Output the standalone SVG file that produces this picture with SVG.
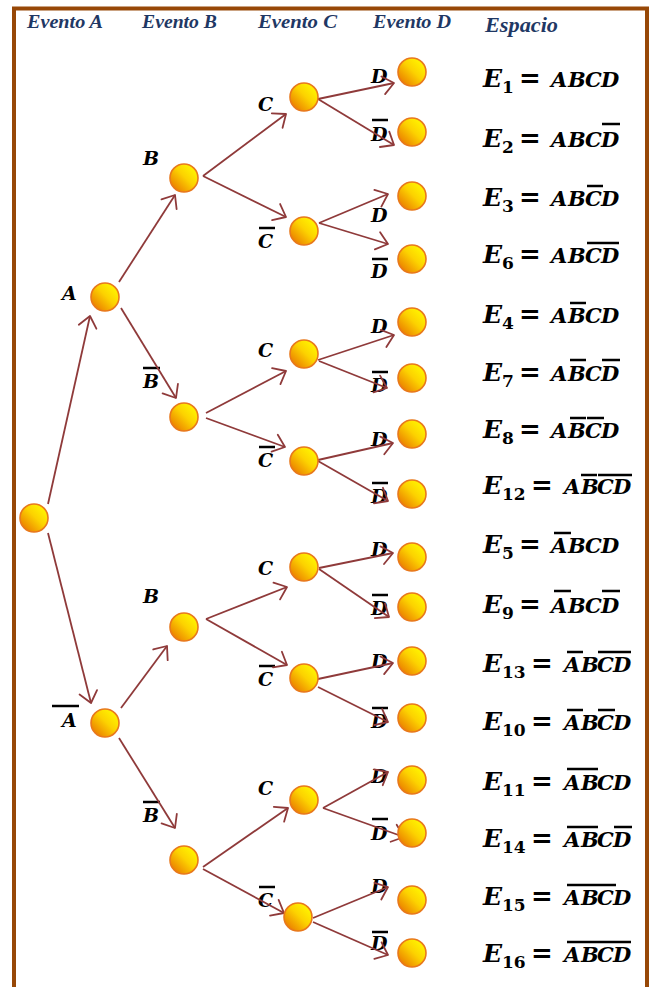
<svg xmlns="http://www.w3.org/2000/svg" width="655" height="987" viewBox="0 0 655 987">
<defs>
<linearGradient id="ball" x1="0.85" y1="0.15" x2="0.15" y2="0.85">
<stop offset="0" stop-color="#fff400"/>
<stop offset="0.45" stop-color="#fcd200"/>
<stop offset="1" stop-color="#ec8400"/>
</linearGradient>
<marker id="arr" markerUnits="userSpaceOnUse" viewBox="-14 -11 16 22" refX="0" refY="0" markerWidth="16" markerHeight="22" orient="auto" overflow="visible">
<path d="M -11 -9 L 0 0 L -11 9" fill="none" stroke="#8f3a3a" stroke-width="1.8" stroke-linecap="round" stroke-linejoin="round"/>
</marker>
<style>
.hdr{font-family:"Liberation Serif","Times New Roman",serif;font-weight:bold;font-style:italic;fill:#1f3864;font-size:18px}
.lbl{font-family:"DejaVu Serif",serif;font-weight:bold;font-style:italic;font-size:19px;fill:#000}
.eE{font-family:"DejaVu Serif",serif;font-weight:bold;font-style:italic;font-size:25px;fill:#000}
.sub{font-family:"DejaVu Serif",serif;font-weight:bold;font-size:17px;fill:#000}
.eq{font-family:"DejaVu Serif",serif;font-weight:bold;font-size:26px;fill:#000}
.let{font-family:"DejaVu Serif",serif;font-weight:bold;font-style:italic;font-size:21px;fill:#000}
.bar{stroke:#000;stroke-width:2.5}
.node{fill:url(#ball);stroke:#e8781c;stroke-width:1.6}
.edge{stroke:#8f3a3a;stroke-width:1.8;fill:none;marker-end:url(#arr)}
</style>
</defs>
<rect x="0" y="0" width="655" height="987" fill="#fff"/>
<rect x="14" y="8.5" width="633" height="1000" fill="#fff" stroke="#974807" stroke-width="4"/>

<g id="headers">
<text class="hdr" x="27" y="27.5" textLength="76" lengthAdjust="spacingAndGlyphs">Evento A</text>
<text class="hdr" x="142" y="27.5" textLength="75" lengthAdjust="spacingAndGlyphs">Evento B</text>
<text class="hdr" x="258" y="27.5" textLength="79" lengthAdjust="spacingAndGlyphs">Evento C</text>
<text class="hdr" x="373" y="27.5" textLength="78" lengthAdjust="spacingAndGlyphs">Evento D</text>
<text class="hdr" x="485" y="32" style="font-size:22px" textLength="73" lengthAdjust="spacingAndGlyphs">Espacio</text>
</g>

<g id="labels">
<text class="lbl" x="62" y="300">A</text>
<text class="lbl" x="62" y="727">A</text><line class="bar" x1="52" y1="706" x2="79" y2="706"/>
<text class="lbl" x="143" y="165">B</text>
<text class="lbl" x="143" y="388">B</text><line class="bar" x1="143" y1="368" x2="160" y2="368"/>
<text class="lbl" x="143" y="603">B</text>
<text class="lbl" x="143" y="822">B</text><line class="bar" x1="143" y1="802" x2="160" y2="802"/>
<text class="lbl" x="258" y="111">C</text>
<text class="lbl" x="258" y="248">C</text><line class="bar" x1="259" y1="228" x2="275" y2="228"/>
<text class="lbl" x="258" y="357">C</text>
<text class="lbl" x="258" y="467">C</text><line class="bar" x1="259" y1="447" x2="275" y2="447"/>
<text class="lbl" x="258" y="575">C</text>
<text class="lbl" x="258" y="686">C</text><line class="bar" x1="259" y1="666" x2="275" y2="666"/>
<text class="lbl" x="258" y="795">C</text>
<text class="lbl" x="258" y="907">C</text><line class="bar" x1="259" y1="887" x2="275" y2="887"/>
<text class="lbl" x="371" y="83">D</text>
<text class="lbl" x="371" y="141">D</text><line class="bar" x1="372" y1="120" x2="388" y2="120"/>
<text class="lbl" x="371" y="222">D</text>
<text class="lbl" x="371" y="278">D</text><line class="bar" x1="372" y1="259" x2="388" y2="259"/>
<text class="lbl" x="371" y="333">D</text>
<text class="lbl" x="371" y="392">D</text><line class="bar" x1="372" y1="372" x2="388" y2="372"/>
<text class="lbl" x="371" y="446">D</text>
<text class="lbl" x="371" y="503">D</text><line class="bar" x1="372" y1="483" x2="388" y2="483"/>
<text class="lbl" x="371" y="556">D</text>
<text class="lbl" x="371" y="615">D</text><line class="bar" x1="372" y1="595" x2="388" y2="595"/>
<text class="lbl" x="371" y="668">D</text>
<text class="lbl" x="371" y="728">D</text><line class="bar" x1="372" y1="708" x2="388" y2="708"/>
<text class="lbl" x="371" y="783">D</text>
<text class="lbl" x="371" y="840">D</text><line class="bar" x1="372" y1="819" x2="388" y2="819"/>
<text class="lbl" x="371" y="893">D</text>
<text class="lbl" x="371" y="950">D</text><line class="bar" x1="372" y1="932" x2="388" y2="932"/>
</g>

<g id="connectors">
<line class="edge" x1="48" y1="504" x2="90" y2="316"/>
<line class="edge" x1="48" y1="533" x2="91" y2="703"/>
<line class="edge" x1="119" y1="282" x2="175" y2="195"/>
<line class="edge" x1="121" y1="308" x2="176" y2="398"/>
<line class="edge" x1="203" y1="176" x2="286" y2="114"/>
<line class="edge" x1="203" y1="176" x2="286" y2="217"/>
<line class="edge" x1="318" y1="99" x2="394" y2="83"/>
<line class="edge" x1="318" y1="99" x2="394" y2="145"/>
<line class="edge" x1="319" y1="223" x2="388" y2="194"/>
<line class="edge" x1="319" y1="223" x2="388" y2="244"/>
<line class="edge" x1="206" y1="413" x2="286" y2="371"/>
<line class="edge" x1="206" y1="418" x2="285" y2="447"/>
<line class="edge" x1="318" y1="360" x2="394" y2="335"/>
<line class="edge" x1="319" y1="361" x2="387" y2="388"/>
<line class="edge" x1="318" y1="460" x2="393" y2="443"/>
<line class="edge" x1="318" y1="461" x2="388" y2="501"/>
<line class="edge" x1="121" y1="708" x2="167" y2="646"/>
<line class="edge" x1="119" y1="738" x2="175" y2="828"/>
<line class="edge" x1="206" y1="619" x2="287" y2="587"/>
<line class="edge" x1="206" y1="619" x2="287" y2="665"/>
<line class="edge" x1="319" y1="568" x2="393" y2="553"/>
<line class="edge" x1="319" y1="569" x2="389" y2="617"/>
<line class="edge" x1="318" y1="679" x2="393" y2="663"/>
<line class="edge" x1="318" y1="687" x2="388" y2="722"/>
<line class="edge" x1="203" y1="867" x2="288" y2="808"/>
<line class="edge" x1="203" y1="869" x2="284" y2="913"/>
<line class="edge" x1="323" y1="808" x2="388" y2="772"/>
<line class="edge" x1="323" y1="808" x2="404" y2="837"/>
<line class="edge" x1="313" y1="918" x2="388" y2="887"/>
<line class="edge" x1="313" y1="922" x2="388" y2="955"/>
</g>

<g id="n-root"><circle class="node" cx="34" cy="518" r="14"/></g>
<g id="n-A"><circle class="node" cx="105" cy="297" r="14"/></g>
<g id="n-Abar"><circle class="node" cx="105" cy="723" r="14"/></g>
<g id="n-AB"><circle class="node" cx="184" cy="178" r="14"/></g>
<g id="n-ABbar"><circle class="node" cx="184" cy="417" r="14"/></g>
<g id="n-AbarB"><circle class="node" cx="184" cy="627" r="14"/></g>
<g id="n-AbarBbar"><circle class="node" cx="184" cy="860" r="14"/></g>
<g id="n-ABC"><circle class="node" cx="304" cy="97" r="14"/></g>
<g id="n-ABCbar"><circle class="node" cx="304" cy="231" r="14"/></g>
<g id="n-ABbarC"><circle class="node" cx="304" cy="354" r="14"/></g>
<g id="n-ABbarCbar"><circle class="node" cx="304" cy="461" r="14"/></g>
<g id="n-AbarBC"><circle class="node" cx="304" cy="567" r="14"/></g>
<g id="n-AbarBCbar"><circle class="node" cx="304" cy="678" r="14"/></g>
<g id="n-AbarBbarC"><circle class="node" cx="304" cy="800" r="14"/></g>
<g id="n-AbarBbarCbar"><circle class="node" cx="298" cy="917" r="14"/></g>
<g id="n-E1"><circle class="node" cx="412" cy="72" r="14"/></g>
<g id="n-E2"><circle class="node" cx="412" cy="132" r="14"/></g>
<g id="n-E3"><circle class="node" cx="412" cy="196" r="14"/></g>
<g id="n-E6"><circle class="node" cx="412" cy="259" r="14"/></g>
<g id="n-E4"><circle class="node" cx="412" cy="322" r="14"/></g>
<g id="n-E7"><circle class="node" cx="412" cy="378" r="14"/></g>
<g id="n-E8"><circle class="node" cx="412" cy="434" r="14"/></g>
<g id="n-E12"><circle class="node" cx="412" cy="494" r="14"/></g>
<g id="n-E5"><circle class="node" cx="412" cy="557" r="14"/></g>
<g id="n-E9"><circle class="node" cx="412" cy="607" r="14"/></g>
<g id="n-E13"><circle class="node" cx="412" cy="661" r="14"/></g>
<g id="n-E10"><circle class="node" cx="412" cy="718" r="14"/></g>
<g id="n-E11"><circle class="node" cx="412" cy="780" r="14"/></g>
<g id="n-E14"><circle class="node" cx="412" cy="833" r="14"/></g>
<g id="n-E15"><circle class="node" cx="412" cy="900" r="14"/></g>
<g id="n-E16"><circle class="node" cx="412" cy="953" r="14"/></g>

<g id="equations">
<g id="eq1"><text class="eE" x="483" y="87">E</text><text class="sub" x="502" y="93">1</text><text class="eq" x="519" y="87">=</text><text class="let" x="551 568 585 601" y="87">ABCD</text></g>
<g id="eq2"><text class="eE" x="483" y="147">E</text><text class="sub" x="502" y="153">2</text><text class="eq" x="519" y="147">=</text><text class="let" x="551 568 585 601" y="147">ABCD</text><line class="bar" x1="602" y1="124" x2="620" y2="124"/></g>
<g id="eq3"><text class="eE" x="483" y="206">E</text><text class="sub" x="502" y="212">3</text><text class="eq" x="519" y="206">=</text><text class="let" x="551 568 585 601" y="206">ABCD</text><line class="bar" x1="587" y1="186" x2="603" y2="186"/></g>
<g id="eq6"><text class="eE" x="483" y="263">E</text><text class="sub" x="502" y="269">6</text><text class="eq" x="519" y="263">=</text><text class="let" x="551 568 585 601" y="263">ABCD</text><line class="bar" x1="587" y1="243" x2="619" y2="243"/></g>
<g id="eq4"><text class="eE" x="483" y="323">E</text><text class="sub" x="502" y="329">4</text><text class="eq" x="519" y="323">=</text><text class="let" x="551 568 585 601" y="323">ABCD</text><line class="bar" x1="570" y1="303" x2="586" y2="303"/></g>
<g id="eq7"><text class="eE" x="483" y="381">E</text><text class="sub" x="502" y="387">7</text><text class="eq" x="519" y="381">=</text><text class="let" x="551 568 585 601" y="381">ABCD</text><line class="bar" x1="570" y1="360" x2="586" y2="360"/><line class="bar" x1="602" y1="360" x2="620" y2="360"/></g>
<g id="eq8"><text class="eE" x="483" y="438">E</text><text class="sub" x="502" y="444">8</text><text class="eq" x="519" y="438">=</text><text class="let" x="551 568 585 601" y="438">ABCD</text><line class="bar" x1="570" y1="418" x2="586" y2="418"/><line class="bar" x1="587" y1="418" x2="604" y2="418"/></g>
<g id="eq12"><text class="eE" x="483" y="494">E</text><text class="sub" x="502" y="500">12</text><text class="eq" x="531" y="494">=</text><text class="let" x="564 581 597 613" y="494">ABCD</text><line class="bar" x1="581" y1="475" x2="597" y2="475"/><line class="bar" x1="598" y1="475" x2="632" y2="475"/></g>
<g id="eq5"><text class="eE" x="483" y="553">E</text><text class="sub" x="502" y="559">5</text><text class="eq" x="519" y="553">=</text><text class="let" x="551 568 585 601" y="553">ABCD</text><line class="bar" x1="554" y1="533" x2="571" y2="533"/></g>
<g id="eq9"><text class="eE" x="483" y="613">E</text><text class="sub" x="502" y="619">9</text><text class="eq" x="519" y="613">=</text><text class="let" x="551 568 585 601" y="613">ABCD</text><line class="bar" x1="554" y1="591" x2="571" y2="591"/><line class="bar" x1="602" y1="591" x2="620" y2="591"/></g>
<g id="eq13"><text class="eE" x="483" y="672">E</text><text class="sub" x="502" y="678">13</text><text class="eq" x="531" y="672">=</text><text class="let" x="564 581 597 613" y="672">ABCD</text><line class="bar" x1="567" y1="652" x2="583" y2="652"/><line class="bar" x1="598" y1="652" x2="631" y2="652"/></g>
<g id="eq10"><text class="eE" x="483" y="730">E</text><text class="sub" x="502" y="736">10</text><text class="eq" x="531" y="730">=</text><text class="let" x="564 581 597 613" y="730">ABCD</text><line class="bar" x1="567" y1="710" x2="583" y2="710"/><line class="bar" x1="598" y1="710" x2="615" y2="710"/></g>
<g id="eq11"><text class="eE" x="483" y="790">E</text><text class="sub" x="502" y="796">11</text><text class="eq" x="531" y="790">=</text><text class="let" x="564 581 597 613" y="790">ABCD</text><line class="bar" x1="567" y1="769" x2="598" y2="769"/></g>
<g id="eq14"><text class="eE" x="483" y="847">E</text><text class="sub" x="502" y="853">14</text><text class="eq" x="531" y="847">=</text><text class="let" x="564 581 597 613" y="847">ABCD</text><line class="bar" x1="567" y1="827" x2="598" y2="827"/><line class="bar" x1="614" y1="827" x2="632" y2="827"/></g>
<g id="eq15"><text class="eE" x="483" y="905">E</text><text class="sub" x="502" y="911">15</text><text class="eq" x="531" y="905">=</text><text class="let" x="564 581 597 613" y="905">ABCD</text><line class="bar" x1="567" y1="885" x2="598" y2="885"/><line class="bar" x1="598" y1="885" x2="616" y2="885"/></g>
<g id="eq16"><text class="eE" x="483" y="962">E</text><text class="sub" x="502" y="968">16</text><text class="eq" x="531" y="962">=</text><text class="let" x="564 581 597 613" y="962">ABCD</text><line class="bar" x1="567" y1="942" x2="598" y2="942"/><line class="bar" x1="598" y1="942" x2="631" y2="942"/></g>
</g>
</svg>
